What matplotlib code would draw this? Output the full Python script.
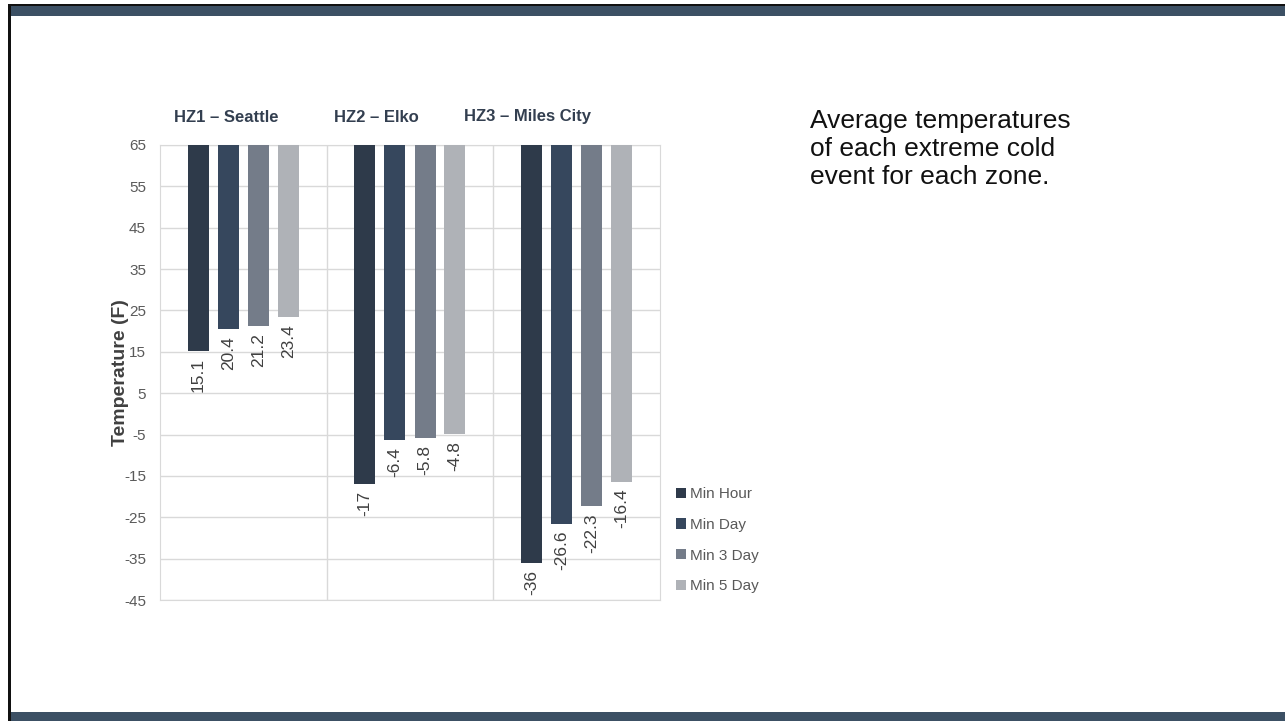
import matplotlib.pyplot as plt
from matplotlib.patches import Rectangle

plt.rcParams['font.family'] = ['Liberation Sans', 'DejaVu Sans']
plt.rcParams['axes.unicode_minus'] = False

zones = ['HZ1 – Seattle', 'HZ2 – Elko', 'HZ3 – Miles City']
series = ['Min Hour', 'Min Day', 'Min 3 Day', 'Min 5 Day']
min_hour = [15.1, -17, -36]
min_day = [20.4, -6.4, -26.6]
min_3day = [21.2, -5.8, -22.3]
min_5day = [23.4, -4.8, -16.4]
yticks = [65, 55, 45, 35, 25, 15, 5, -5, -15, -25, -35, -45]

colors = ['#2e3a4a', '#36475d', '#747c89', '#afb2b7']
top = 65
W, H = 1285, 721

fig = plt.figure(figsize=(W / 100, H / 100), dpi=100)

# slide frame: dark top rule, slate header/footer bands, left rule
fig.add_artist(Rectangle((8 / W, 1 - 6 / H), 1, 2 / H, color='#111111', lw=0))
fig.add_artist(Rectangle((10 / W, 1 - 16 / H), 1, 10 / H, color='#3c5064', lw=0))
fig.add_artist(Rectangle((10 / W, 0), 1, 9 / H, color='#3c5064', lw=0))
fig.add_artist(Rectangle((8 / W, 0), 3 / W, 1 - 4 / H, color='#111111', lw=0))

ax = fig.add_axes([160 / W, 1 - 600 / H, 500 / W, 455 / H])

x = [0, 1, 2]
offsets = [-0.27, -0.09, 0.09, 0.27]
width = 0.126
for vals, off, col, name in zip([min_hour, min_day, min_3day, min_5day], offsets, colors, series):
    pos = [xi + off for xi in x]
    ax.bar(pos, [v - top for v in vals], bottom=top, width=width,
           color=col, label=name, zorder=3)
    for p, v in zip(pos, vals):
        ax.annotate(f'{v:g}', (p, v), xytext=(0, -5), textcoords='offset points',
                    rotation=90, ha='center', va='top', fontsize=12.5, color='#404040')

ax.set_xlim(-0.5, 2.5)
ax.set_ylim(-45, 65)
ax.set_yticks(yticks)
ax.set_xticks([])
ax.tick_params(axis='y', length=0, labelsize=11, labelcolor='#595959', pad=10)
ax.grid(axis='y', color='#d9d9d9', lw=1, zorder=0)
for xs in [0.5, 1.5]:
    ax.axvline(xs, color='#d9d9d9', lw=1, zorder=0)
for s in ax.spines.values():
    s.set_color('#d9d9d9')
ax.set_ylabel('Temperature (F)', fontsize=14, fontweight='bold', color='#404040')
ax.yaxis.set_label_coords(-0.062, 0.5)

# zone headers above the plot
title_x = [226, 376, 527]
for tx, z in zip(title_x, zones):
    fig.text(tx / W, 1 - 117 / H, z, ha='center', va='center', fontsize=12,
             fontweight='bold', color='#333f50')

ax.legend(loc='upper left', bbox_to_anchor=(676 / W, 1 - 487 / H),
          bbox_transform=fig.transFigure, frameon=False, fontsize=11,
          handlelength=0.65, handleheight=0.65, handletextpad=0.25,
          labelspacing=1.1, borderpad=0, borderaxespad=0, labelcolor='#595959')

fig.text(810 / W, 1 - 109 / H,
         'Average temperatures\nof each extreme cold\nevent for each zone.',
         ha='left', va='top', fontsize=19, color='#111111', linespacing=1.2)

fig.savefig('out.png', dpi=100)
